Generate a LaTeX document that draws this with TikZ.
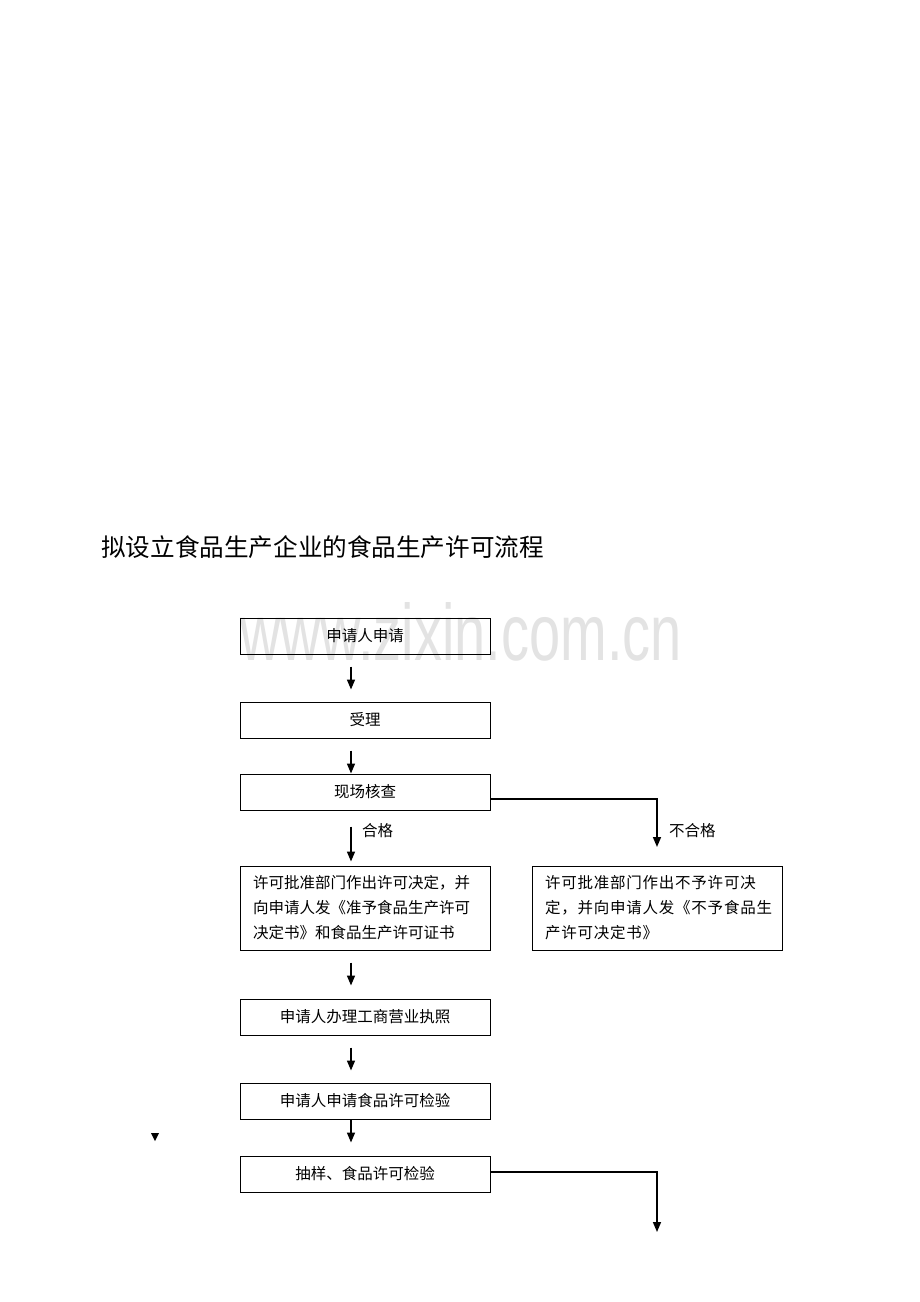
\documentclass[tikz,border=0pt]{standalone}
\usepackage{fontspec}
\setmainfont{Noto Sans CJK SC}
\newfontfamily\cjk{Noto Sans CJK SC}
\newfontfamily\cjkspaced[LetterSpace=5]{Noto Sans CJK SC}
\newfontfamily\wmfont{Liberation Sans}
\usetikzlibrary{arrows.meta}
\begin{document}
\begin{tikzpicture}[x=1pt,y=-1pt,
  box/.style={draw=black,line width=1pt,minimum width=250pt,minimum height=36pt,inner sep=0pt,font=\cjk\fontsize{15.5}{25}\selectfont},
  bigbox/.style={box,minimum height=84pt,text width=224pt,align=left,inner xsep=13pt},
  arr/.style={line width=1.5pt,-{Triangle[width=8pt,length=10pt]}},
  lbl/.style={anchor=west,inner sep=0pt,font=\cjk\fontsize{15.5}{18}\selectfont}]
\useasboundingbox[fill=white] (0,0) rectangle (920,1302);
% watermark
\node[text=black!11,font=\wmfont\fontsize{80}{80}\selectfont,xscale=0.7,inner sep=0pt] (wm) at (461,632) {www.zixin.com.cn};
% title
\node[anchor=west,inner sep=0pt,font=\cjk\fontsize{24.6}{28}\selectfont] (title) at (101,547) {拟设立食品生产企业的食品生产许可流程};
% boxes
\node[box] (b1) at (365,636) {申请人申请};
\node[box] (b2) at (365,720) {受理};
\node[box] (b3) at (365,792) {现场核查};
\node[bigbox] (b4) at (365,908) {许可批准部门作出许可决定，并\\向申请人发《准予食品生产许可\\决定书》和食品生产许可证书};
\node[bigbox,font=\cjkspaced\fontsize{15.5}{25}\selectfont] (b5) at (657,908) {许可批准部门作出不予许可决\\定，并向申请人发《不予食品生\\产许可决定书》};
\node[box] (b6) at (365,1017) {申请人办理工商营业执照};
\node[box] (b7) at (365,1101) {申请人申请食品许可检验};
\node[box] (b8) at (365,1174) {抽样、食品许可检验};
% connectors
\draw[arr,shorten <=12pt,shorten >=12pt] ([xshift=-14pt]b1.south) -- ([xshift=-14pt]b2.north);
\draw[arr,shorten <=12pt] ([xshift=-14pt]b2.south) -- ([xshift=-14pt]b3.north);
\draw[arr,shorten <=16pt,shorten >=4pt] ([xshift=-14pt]b3.south) -- ([xshift=-14pt]b4.north);
\draw[arr,shorten <=12pt,shorten >=13pt] ([xshift=-14pt]b4.south) -- ([xshift=-14pt]b6.north);
\draw[arr,shorten <=12pt,shorten >=12pt] ([xshift=-14pt]b6.south) -- ([xshift=-14pt]b7.north);
\draw[arr,shorten >=13pt] ([xshift=-14pt]b7.south) -- ([xshift=-14pt]b8.north);
\coordinate (n1) at (657,847);
\coordinate (n2) at (657,1232);
\draw[arr] ([yshift=-7pt]b3.east) -| (n1);
\draw[arr] ([yshift=2pt]b8.east) -| (n2);
% labels
\node[lbl] (l1) at (362,831) {合格};
\node[lbl] (l2) at (669,831) {不合格};
% stray marker
\fill (151,1133) -- (159,1133) -- (155,1141) -- cycle;
\end{tikzpicture}
\end{document}
